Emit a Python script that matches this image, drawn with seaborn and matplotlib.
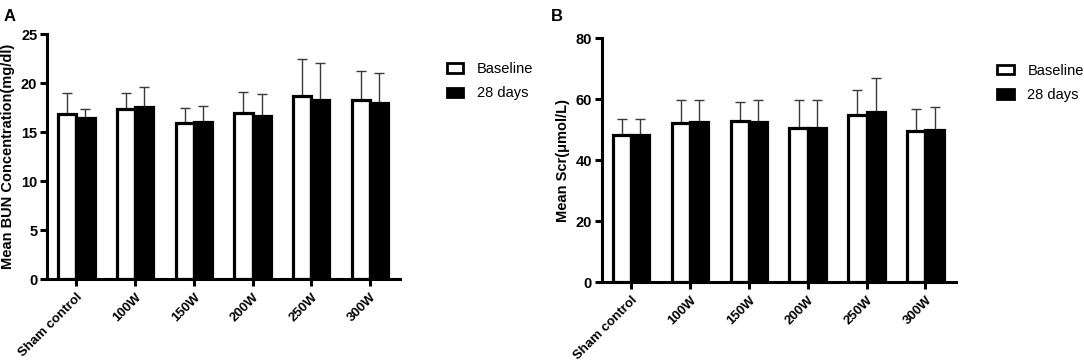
import numpy as np
import pandas as pd
import matplotlib
matplotlib.use("Agg")
import matplotlib.pyplot as plt
import seaborn as sns
from matplotlib.patches import Patch

groups = ["Sham control", "100W", "150W", "200W", "250W", "300W"]
series = ["Baseline", "28 days"]

bun_baseline = [16.9, 17.4, 15.9, 17.0, 18.7, 18.3]
bun_baseline_sd = [2.05, 1.55, 1.6, 2.1, 3.8, 2.9]
bun_28d = [16.4, 17.6, 16.0, 16.6, 18.3, 18.0]
bun_28d_sd = [1.0, 2.0, 1.7, 2.25, 3.8, 3.05]

scr_baseline = [48.3, 52.3, 52.9, 50.6, 54.7, 49.7]
scr_baseline_sd = [5.2, 7.4, 6.2, 9.2, 8.3, 6.9]
scr_28d = [48.2, 52.6, 52.6, 50.4, 55.8, 49.8]
scr_28d_sd = [5.3, 7.1, 7.1, 9.3, 11.2, 7.6]

plt.rcParams['font.family'] = ['Liberation Sans', 'DejaVu Sans']

fig = plt.figure(figsize=(10.84, 3.63), dpi=100)
axA = fig.add_axes([0.0434, 0.231, 0.326, 0.675])
axB = fig.add_axes([0.555, 0.223, 0.327, 0.672])

palette = {"Baseline": "white", "28 days": "black"}


def panel(ax, base, base_sd, d28, d28_sd, ylim, yticks, ylabel):
    df = pd.DataFrame({
        "group": groups * 2,
        "series": ["Baseline"] * len(groups) + ["28 days"] * len(groups),
        "value": list(base) + list(d28),
    })
    sns.barplot(data=df, x="group", y="value", hue="series", order=groups,
                hue_order=series, palette=palette, errorbar=None, width=0.62,
                edgecolor="black", linewidth=2.3, ax=ax, legend=False, zorder=3)
    # error bars (upper only), positioned on the bars seaborn drew
    for cont, sds in zip(ax.containers, [base_sd, d28_sd]):
        xs = [b.get_x() + b.get_width() / 2 for b in cont]
        hs = [b.get_height() for b in cont]
        ax.errorbar(xs, hs, yerr=[np.zeros(len(sds)), sds], fmt="none",
                    ecolor="#3a3a3a", elinewidth=1.0, capsize=3.5,
                    capthick=1.0, zorder=2)
    ax.set_xlim(-0.5, 5.52)
    ax.set_ylim(*ylim)
    ax.set_yticks(yticks)
    ax.set_xlabel("")
    ax.set_ylabel(ylabel, fontsize=10.5, fontweight="bold", labelpad=4)
    for s in ["top", "right"]:
        ax.spines[s].set_visible(False)
    for s in ["left", "bottom"]:
        ax.spines[s].set_linewidth(2.2)
    ax.tick_params(axis="both", width=2.2, length=5, labelsize=10.5)
    ax.tick_params(axis="y", pad=2)
    for lab in ax.get_yticklabels():
        lab.set_fontweight("bold")
    ax.set_xticks(range(len(groups)))
    ax.set_xticklabels(groups, rotation=45, ha="right", rotation_mode="anchor",
                       fontweight="bold", fontsize=9.5)
    handles = [Patch(facecolor="white", edgecolor="black", linewidth=2.0, label="Baseline"),
               Patch(facecolor="black", edgecolor="black", linewidth=2.0, label="28 days")]
    return handles


hA = panel(axA, bun_baseline, bun_baseline_sd, bun_28d, bun_28d_sd,
           (0, 25), [0, 5, 10, 15, 20, 25], "Mean BUN Concentration(mg/dl)")
hB = panel(axB, scr_baseline, scr_baseline_sd, scr_28d, scr_28d_sd,
           (0, 80), [0, 20, 40, 60, 80], "Mean Scr(μmol/L)")

fig.legend(handles=hA, loc="upper left", bbox_to_anchor=(0.400, 0.865),
           frameon=False, fontsize=10.5, handlelength=1.15, handleheight=0.6,
           labelspacing=0.7, handletextpad=0.9)
fig.legend(handles=hB, loc="upper left", bbox_to_anchor=(0.908, 0.86),
           frameon=False, fontsize=10.5, handlelength=1.15, handleheight=0.6,
           labelspacing=0.7, handletextpad=0.9)

fig.text(0.003, 0.975, "A", fontsize=12, fontweight="bold", va="top")
fig.text(0.508, 0.975, "B", fontsize=12, fontweight="bold", va="top")

fig.savefig("out.png", dpi=100)
